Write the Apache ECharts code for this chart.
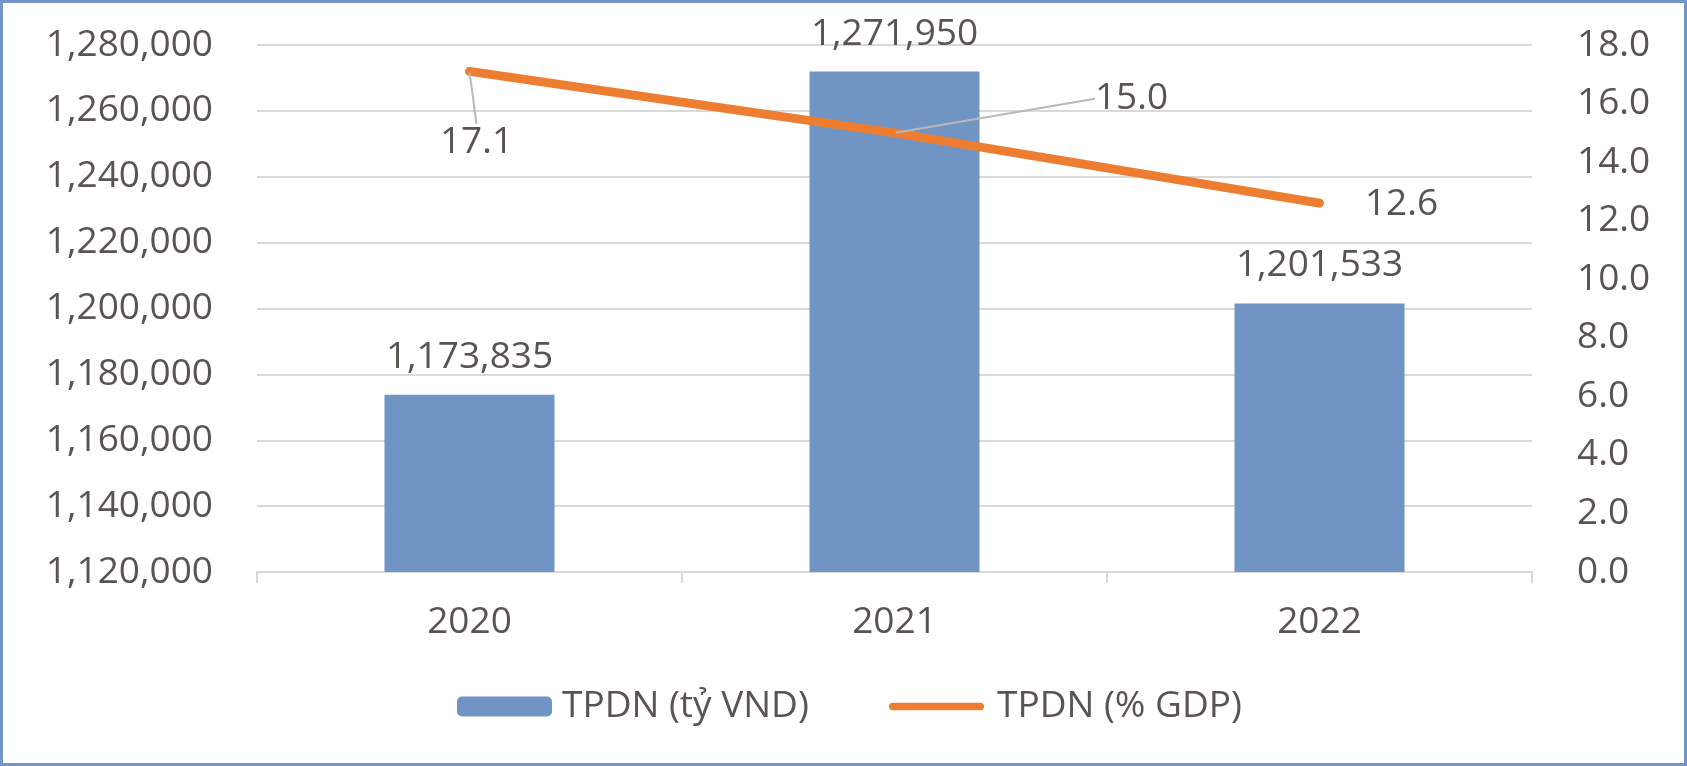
<!DOCTYPE html>
<html>
<head>
<meta charset="utf-8">
<script src="https://cdn.jsdelivr.net/npm/echarts@6/dist/echarts.min.js"></script>
<style>
html,body{margin:0;padding:0;background:#fff;}
#c{width:1687px;height:766px;}
</style>
</head>
<body>
<div id="c"></div>
<script>
var categories = ['2020', '2021', '2022'];
var barValues = [1173835, 1271950, 1201533];
var lineValues = [17.1, 15.0, 12.6];
var barName = 'TPDN (tỷ VND)';
var lineName = 'TPDN (% GDP)';

var TXT = '#595450';
var FONT = 'Open Sans';
var FS = 37;
var labelOffsets = [[7, 71], [237, -34], [82, 1]];

var chart = echarts.init(document.getElementById('c'), null, {renderer: 'canvas'});
function fmt(v){ return Number(v).toLocaleString('en-US'); }

chart.setOption({
  animation: false,
  backgroundColor: '#fff',
  textStyle: {fontFamily: FONT},
  grid: {left: 257, right: 155, top: 45, bottom: 194, containLabel: false},
  graphic: [{
    type: 'rect', silent: true,
    shape: {x: 1.5, y: 1.5, width: 1684, height: 763},
    style: {fill: 'none', stroke: '#7396c9', lineWidth: 3}
  }],
  legend: [{
    data: [barName], left: 452, top: 683, itemWidth: 95, itemHeight: 20,
    textStyle: {fontSize: FS, color: TXT, fontFamily: FONT, padding: [0, 0, 0, 5]}
  }, {
    data: [{name: lineName, icon: 'path://M4,0 H96 A4,4 0 0 1 96,8 H4 A4,4 0 0 1 4,0 Z'}],
    left: 884, top: 683, itemWidth: 95, itemHeight: 20,
    textStyle: {fontSize: FS, color: TXT, fontFamily: FONT, padding: [0, 0, 0, 8]}
  }],
  xAxis: {
    type: 'category', data: categories, boundaryGap: true,
    axisLine: {show: true, lineStyle: {color: '#d9d9d9', width: 2}},
    axisTick: {show: true, length: 11, lineStyle: {color: '#d9d9d9', width: 2}},
    axisLabel: {fontSize: FS, color: TXT, margin: 32, fontFamily: FONT}
  },
  yAxis: [{
    type: 'value', min: 1120000, max: 1280000, interval: 20000,
    axisLine: {show: false}, axisTick: {show: false},
    splitLine: {show: true, lineStyle: {color: '#d9d9d9', width: 2}},
    axisLabel: {fontSize: FS, color: TXT, margin: 44, fontFamily: FONT, formatter: fmt}
  }, {
    type: 'value', min: 0, max: 18, interval: 2, position: 'right',
    axisLine: {show: false}, axisTick: {show: false}, splitLine: {show: false},
    axisLabel: {fontSize: FS, color: TXT, margin: 45, fontFamily: FONT,
      formatter: function(v){ return v.toFixed(1); }}
  }],
  series: [{
    name: barName, type: 'bar', yAxisIndex: 0, data: barValues, barWidth: '40%',
    itemStyle: {color: '#7094c4'},
    label: {show: true, position: 'top', distance: 19, fontSize: FS, color: TXT, fontFamily: FONT, formatter: function(p){ return fmt(p.value); }}
  }, {
    name: lineName, type: 'line', yAxisIndex: 1, z: 5,
    data: lineValues.map(function(v, i){ return i === 2 ? {value: v, labelLine: {show: false}} : v; }),
    symbol: 'circle', symbolSize: 2, showSymbol: true,
    itemStyle: {color: '#ed7d31'},
    lineStyle: {color: '#ed7d31', width: 9, cap: 'round', join: 'round'},
    label: {show: true, position: 'inside', fontSize: FS, color: TXT, fontFamily: FONT,
      formatter: function(p){ return Number(p.value).toFixed(1); }},
    labelLine: {show: true, lineStyle: {color: '#bdb8b3', width: 2}},
    labelLayout: function(params){
      var o = labelOffsets[params.dataIndex];
      return {dx: o[0], dy: o[1]};
    }
  }]
});
</script>
</body>
</html>
